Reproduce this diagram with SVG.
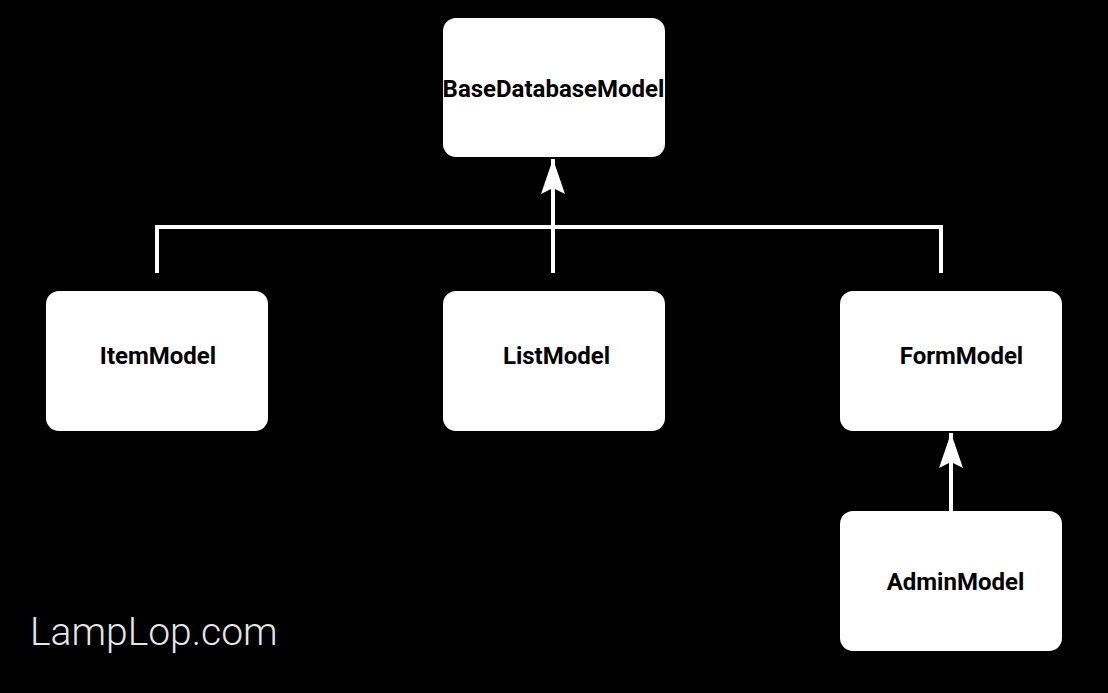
<svg xmlns="http://www.w3.org/2000/svg" width="1108" height="693" viewBox="0 0 1108 693">
<defs>
<style>
.box{fill:#fff;}
.lbl{font-family:Roboto,"Liberation Sans",sans-serif;font-weight:bold;font-size:24px;fill:#000;text-anchor:middle;}
.conn{stroke:#fff;stroke-width:4;fill:none;}
.wm{font-family:Roboto,"Liberation Sans",sans-serif;font-weight:300;font-size:39px;fill:#e6e6e6;}
</style>
<marker id="ah" markerUnits="userSpaceOnUse" markerWidth="38" markerHeight="26" refX="36" refY="13" orient="auto" viewBox="0 0 38 26">
<path d="M36 13 L1 1 L7 13 L1 25 Z" fill="#fff"/>
</marker>
</defs>
<rect width="1108" height="693" fill="#000"/>
<g id="connectors">
<path class="conn" d="M157 273 V227 H941 V273"/>
<path class="conn" d="M553 273 V159" marker-end="url(#ah)"/>
<path class="conn" d="M951 511 V433" marker-end="url(#ah)"/>
</g>
<g id="BaseDatabaseModel"><rect class="box" x="443" y="18" width="222" height="139" rx="13"/><text class="lbl" x="553.5" y="97">BaseDatabaseModel</text></g>
<g id="ItemModel"><rect class="box" x="46" y="291" width="222" height="140" rx="13"/><text class="lbl" x="158" y="364">ItemModel</text></g>
<g id="ListModel"><rect class="box" x="443" y="291" width="222" height="140" rx="13"/><text class="lbl" x="556.5" y="364">ListModel</text></g>
<g id="FormModel"><rect class="box" x="840" y="291" width="222" height="140" rx="13"/><text class="lbl" x="961.5" y="364">FormModel</text></g>
<g id="AdminModel"><rect class="box" x="840" y="511" width="222" height="140" rx="13"/><text class="lbl" x="955.5" y="590">AdminModel</text></g>
<text class="wm" x="30" y="645">LampLop.com</text>
</svg>
